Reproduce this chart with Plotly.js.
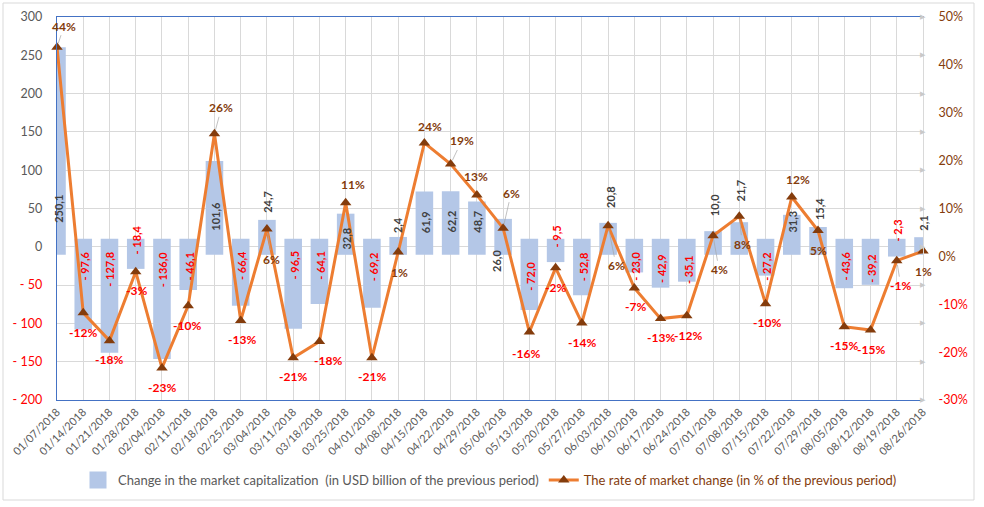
<!DOCTYPE html>
<html><head><meta charset="utf-8">
<script src="https://cdn.plot.ly/plotly-3.0.1.min.js"></script>
<style>html,body{margin:0;padding:0;background:#fff;} #chart{width:984px;height:507px;}</style>
</head><body><div id="chart"></div>
<script>
// ---------- data ----------
const dates = ['01/07/2018','01/14/2018','01/21/2018','01/28/2018','02/04/2018','02/11/2018','02/18/2018','02/25/2018',
  '03/04/2018','03/11/2018','03/18/2018','03/25/2018','04/01/2018','04/08/2018','04/15/2018','04/22/2018','04/29/2018',
  '05/06/2018','05/13/2018','05/20/2018','05/27/2018','06/03/2018','06/10/2018','06/17/2018','06/24/2018',
  '07/01/2018','07/08/2018','07/15/2018','07/22/2018','07/29/2018','08/05/2018','08/12/2018','08/19/2018','08/26/2018'];
const capChange = [250.1,-97.6,-127.8,-18.4,-136.0,-46.1,101.6,-66.4,24.7,-96.5,-64.1,32.8,-69.2,2.4,61.9,62.2,48.7,
  26.0,-72.0,-9.5,-52.8,20.8,-23.0,-42.9,-35.1,10.0,21.7,-27.2,31.3,15.4,-43.6,-39.2,-2.3,2.1];
const rateChange = [43.7,-11.8,-17.6,-3.2,-23.3,-10.3,25.6,-13.4,5.7,-21.2,-17.8,11.2,-21.2,0.9,23.7,19.3,12.8,
  5.9,-15.8,-2.4,-13.9,6.4,-6.6,-13.0,-12.4,4.3,8.4,-9.9,12.4,5.4,-14.7,-15.4,-0.9,1.1];
const leftTicks = [-200,-150,-100,-50,0,50,100,150,200,250,300];
const rightTicks = [-30,-20,-10,0,10,20,30,40,50];
const seriesNames = ['Change in the market capitalization\u00a0 (in USD billion of the previous period)',
  'The rate of market change (in % of the previous period)'];

// ---------- label placement (layout only) ----------
// [reference ('v' = bar end, '0' = zero line), anchor, shift up px, shift right px]
const barLabelPlace = [
  ['0','bottom',22,2],['0','top',-3,1],['0','top',-3,0],['0','middle',7,1],['0','top',-3,0],['0','top',-3,1],
  ['0','bottom',14,1],['0','top',-2,1],['v','bottom',13,1],['0','top',-2,1],['0','top',-2,1],['0','bottom',-5,1],
  ['0','top',-3,1],['v','bottom',10,0],['0','bottom',12,1],['0','bottom',12,1],['0','bottom',12,1],['0','top',-1,-6],
  ['0','top',-13,1],['0','bottom',-3,1],['0','top',-3,1],['v','bottom',21,3],['0','top',-3,1],['0','top',-5,1],
  ['0','top',-6,1],['v','bottom',21,1],['v','bottom',27,1],['0','top',-3,1],['0','bottom',12,1],['v','bottom',13,1],
  ['0','top',-3,1],['0','top',-5,1],['0','bottom',3,1],['v','bottom',12,1]];
// [dx, dy] of percentage labels from their marker, px (dy positive = down)
const rateLabelOffset = [
  [7,-21],[0,20],[0,19],[1,19],[0,20],[-1,20],[7,-26],[1,19],[5,30],[0,19],[9,19],[7,-18],[0,19],[1,20],
  [6,-16],[11,-23],[-1,-19],[8,-35],[-3,21],[0,20],[0,20],[8,40],[1,19],[0,19],[1,20],[6,34],[3,28],[1,19],
  [6,-18],[0,20],[0,19],[0,19],[4,25],[0,20]];

const FONT = 'Lato, "Open Sans", "Liberation Sans", sans-serif';
const BROWN = '#843C0C', RED = '#FF0000', GRAY = '#595959', DARK = '#404040';
const BARCOL = '#B4C7E7', AXISBLUE = '#4472C4', GRID = '#D9D9D9';

function fmtCap(v){ const s = Math.abs(v).toFixed(1).replace('.', ','); return v < 0 ? '- ' + s : s; }

const traces = [
  { type:'bar', name:'<span style="color:'+GRAY+'">'+seriesNames[0]+'</span>', x:dates, y:capChange,
    width:0.06, marker:{color:BARCOL, line:{color:BARCOL, width:16}}, hoverinfo:'skip', cliponaxis:true },
  { type:'scatter', mode:'lines+markers', name:'<span style="color:'+BROWN+'">'+seriesNames[1]+'</span>',
    x:dates, y:rateChange, yaxis:'y2', line:{color:'#ED7D31', width:3},
    marker:{symbol:'triangle-up', size:10, color:BROWN}, cliponaxis:false, hoverinfo:'skip' }
];

const annotations = [];
capChange.forEach((v, i) => {
  const p = barLabelPlace[i];
  annotations.push({ xref:'x', yref:'y', x:dates[i], y: p[0] === 'v' ? v : 0, text: fmtCap(v),
    showarrow:false, textangle:-90, xanchor:'center', yanchor:p[1], yshift:p[2], xshift:p[3],
    font:{family:FONT, size:11, color: v < 0 ? RED : DARK, weight:'bold'} });
});
rateChange.forEach((v, i) => {
  const o = rateLabelOffset[i];
  const far = Math.hypot(o[0], o[1]) > 22;
  annotations.push({ xref:'x', yref:'y2', x:dates[i], y:v, text: Math.round(v) + '%',
    showarrow:true, arrowhead:0, arrowwidth:0.7, arrowcolor: far ? '#A6A6A6' : 'rgba(0,0,0,0)',
    standoff:4, ax:o[0], ay:o[1],
    font:{family:FONT, size:12, color: v < 0 ? RED : BROWN, weight:'bold'} });
});
leftTicks.forEach(t => {
  annotations.push({ xref:'paper', yref:'y', x:1, y:t, text:'▶', showarrow:false, xanchor:'center', yanchor:'middle',
    font:{family:'DejaVu Sans', size:7, color:'#C9C9C9'} });
});

const layout = {
  width:984, height:507,
  margin:{l:57, r:61, t:17, b:107, pad:0},
  paper_bgcolor:'#ffffff', plot_bgcolor:'#ffffff',
  font:{family:FONT, size:12, color:GRAY},
  bargap:0.2,
  showlegend:true,
  legend:{orientation:'h', x:0.5, xanchor:'center', y:-0.209, yanchor:'middle', font:{family:FONT, size:13},
    bgcolor:'rgba(0,0,0,0)', traceorder:'normal', itemwidth:30, tracegroupgap:0},
  xaxis:{type:'category', range:[0,33], showgrid:true, gridcolor:GRID, gridwidth:1, showline:true,
    linecolor:AXISBLUE, linewidth:1.3, mirror:true, tickangle:-45, ticks:'', zeroline:false,
    tickfont:{family:FONT, size:11, color:GRAY}, automargin:false, fixedrange:true},
  yaxis:{range:[-200,300], tickmode:'array', tickvals:leftTicks,
    ticktext:leftTicks.map(t => t < 0 ? '<span style="color:'+RED+'">- '+Math.abs(t)+'</span>' : String(t)),
    showgrid:true, gridcolor:GRID, showline:true, linecolor:AXISBLUE, linewidth:1.3, zeroline:false,
    ticks:'', ticklabelstandoff:11, tickfont:{family:FONT, size:12.5, color:GRAY}, automargin:false, fixedrange:true},
  yaxis2:{overlaying:'y', side:'right', range:[-30,50], tickmode:'array', tickvals:rightTicks,
    ticktext:rightTicks.map(t => '<span style="color:'+(t < 0 ? RED : BROWN)+'">'+t+'%</span>'),
    showgrid:false, showline:true, linecolor:GRID, zeroline:false, ticks:'', ticklabelstandoff:12,
    tickfont:{family:FONT, size:12.5}, automargin:false, fixedrange:true},
  shapes:[{type:'rect', xref:'paper', yref:'paper', x0:(3-57)/866, x1:(974-57)/866, y0:(400-500)/383, y1:(400-3)/383,
    line:{color:GRID, width:1}, fillcolor:'rgba(0,0,0,0)', layer:'below'}],
  annotations:annotations
};

Plotly.newPlot('chart', traces, layout, {staticPlot:true, displayModeBar:false});
</script>
</body></html>
